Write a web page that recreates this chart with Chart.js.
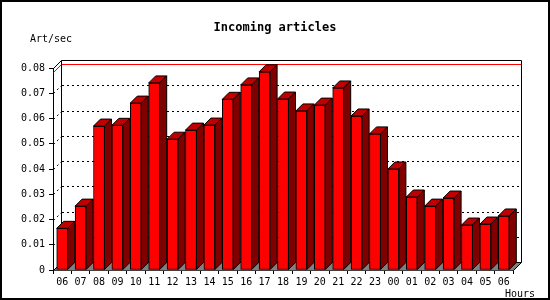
<!DOCTYPE html>
<html>
<head>
<meta charset="utf-8">
<script src="https://cdn.jsdelivr.net/npm/chart.js@4/dist/chart.umd.min.js"></script>
<style>
  html, body { margin: 0; padding: 0; background: #fff; }
  #wrap { width: 550px; height: 300px; }
</style>
</head>
<body>
<div id="wrap"><canvas id="myChart" width="550" height="300"></canvas></div>
<script>
// hours of the day and incoming article rate
const hours = ['06', '07', '08', '09', '10', '11', '12', '13', '14', '15', '16', '17',
  '18', '19', '20', '21', '22', '23', '00', '01', '02', '03', '04', '05', '06'];
const artPerSec = [0.0165, 0.0253, 0.0570, 0.0573, 0.0661, 0.0741, 0.0518, 0.0554, 0.0574,
  0.0676, 0.0733, 0.0785, 0.0677, 0.0630, 0.0653, 0.0721, 0.0610, 0.0539, 0.0400,
  0.0289, 0.0253, 0.0285, 0.0178, 0.0182, 0.0214];
const yTicks = [0, 0.01, 0.02, 0.03, 0.04, 0.05, 0.06, 0.07, 0.08];

const DEPTH = 8;      // frame depth
const BAR_DEPTH = 7;  // bar depth
const MONO = '"DejaVu Sans Mono", "Liberation Mono", monospace';

Chart.defaults.color = '#000';
Chart.defaults.font.family = MONO;
Chart.defaults.font.size = 10;

const frame3d = {
  id: 'frame3d',
  beforeDraw(chart) {
    const ctx = chart.ctx;
    ctx.save();
    ctx.fillStyle = '#fff';
    ctx.fillRect(0, 0, chart.width, chart.height);
    ctx.restore();
  },
  beforeDatasetsDraw(chart) {
    const ctx = chart.ctx;
    const a = chart.chartArea;
    const y = chart.scales.y;
    const L = Math.round(a.left) + 0.5, R = Math.round(a.right) + 0.5;
    const T = Math.round(a.top) + 0.5, B = Math.round(a.bottom) + 0.5;
    const d = DEPTH;
    ctx.save();
    ctx.lineWidth = 1;

    // floor
    ctx.fillStyle = '#808080';
    ctx.beginPath();
    ctx.moveTo(L, B); ctx.lineTo(R, B); ctx.lineTo(R + d, B - d); ctx.lineTo(L + d, B - d);
    ctx.closePath();
    ctx.fill();

    // dotted grid on the back wall
    ctx.strokeStyle = '#000';
    ctx.setLineDash([2, 3]);
    yTicks.forEach(v => {
      if (v === 0 || v === 0.08) return;
      const py = Math.round(y.getPixelForValue(v)) + 0.5;
      ctx.beginPath();
      ctx.moveTo(L + d + 0.5, py - d);
      ctx.lineTo(R + d - 0.5, py - d);
      ctx.stroke();
      ctx.beginPath();
      ctx.moveTo(L, py);
      ctx.lineTo(L + d, py - d);
      ctx.stroke();
    });
    ctx.setLineDash([]);

    // max line
    const maxY = Math.round(y.getPixelForValue(Math.max(...artPerSec))) + 0.5;
    ctx.strokeStyle = '#f00';
    ctx.beginPath();
    ctx.moveTo(L, maxY); ctx.lineTo(L + d, maxY - d); ctx.lineTo(R + d, maxY - d);
    ctx.stroke();

    // back frame
    ctx.strokeStyle = '#000';
    ctx.beginPath();
    ctx.moveTo(L, T); ctx.lineTo(L + d, T - d); ctx.lineTo(R + d, T - d); ctx.lineTo(R + d, B - d);
    ctx.lineTo(L + d, B - d); ctx.lineTo(L + d, T - d);
    ctx.moveTo(L, B); ctx.lineTo(L + d, B - d);
    ctx.moveTo(R, B); ctx.lineTo(R + d, B - d);
    ctx.stroke();
    ctx.restore();
  },
  afterDatasetsDraw(chart) {
    const ctx = chart.ctx;
    const d = BAR_DEPTH;
    ctx.save();
    ctx.lineWidth = 1;
    ctx.strokeStyle = '#000';
    chart.getDatasetMeta(0).data.forEach(bar => {
      const p = bar.getProps(['x', 'y', 'base', 'width'], true);
      const xl = p.x - p.width / 2, xr = p.x + p.width / 2;
      // top face
      ctx.fillStyle = '#c00000';
      ctx.beginPath();
      ctx.moveTo(xl, p.y); ctx.lineTo(xl + d, p.y - d); ctx.lineTo(xr + d, p.y - d); ctx.lineTo(xr, p.y);
      ctx.closePath();
      ctx.fill(); ctx.stroke();
      // side face
      ctx.fillStyle = '#800000';
      ctx.beginPath();
      ctx.moveTo(xr, p.y); ctx.lineTo(xr + d, p.y - d); ctx.lineTo(xr + d, p.base - d); ctx.lineTo(xr, p.base);
      ctx.closePath();
      ctx.fill(); ctx.stroke();
    });
    ctx.restore();
  },
  afterDraw(chart) {
    const ctx = chart.ctx;
    ctx.save();
    ctx.fillStyle = '#000';
    ctx.textBaseline = 'middle';
    ctx.font = 'bold 12px ' + MONO;
    ctx.textAlign = 'center';
    ctx.fillText('Incoming articles', 275, 28);
    ctx.font = '10px ' + MONO;
    ctx.textAlign = 'left';
    ctx.fillText('Art/sec', 30, 39);
    ctx.textAlign = 'right';
    ctx.fillText('Hours', 535, 294);
    // outer border
    ctx.strokeStyle = '#000';
    ctx.lineWidth = 2;
    ctx.strokeRect(1, 1, chart.width - 2, chart.height - 2);
    ctx.restore();
  }
};

const chart = new Chart(document.getElementById('myChart'), {
  type: 'bar',
  plugins: [frame3d],
  data: {
    labels: hours,
    datasets: [{
      label: 'Art/sec',
      data: artPerSec,
      backgroundColor: '#ff0000',
      borderColor: '#000',
      borderWidth: 1,
      borderSkipped: false,
      barThickness: 11,
    }],
  },
  options: {
    animation: false,
    responsive: false,
    layout: { padding: { top: 68, right: 37, left: 0, bottom: 0 } },
    plugins: {
      legend: { display: false },
      tooltip: { enabled: false },
      title: { display: false },
    },
    scales: {
      x: {
        afterFit: (s) => { s.height = 30; },
        grid: { display: true, offset: true, drawOnChartArea: false, tickLength: 4, color: '#000' },
        border: { display: true, color: '#000' },
        ticks: { autoSkip: false, maxRotation: 0, padding: 2 },
      },
      y: {
        min: 0,
        max: 0.08,
        afterFit: (s) => { s.width = 53; },
        afterBuildTicks: (s) => { s.ticks = yTicks.map(v => ({ value: v })); },
        grid: { display: true, drawOnChartArea: false, tickLength: 4, color: '#000' },
        border: { display: true, color: '#000' },
        ticks: {
          padding: 4,
          callback: (v) => v === 0 ? '0' : Number(v).toFixed(2),
        },
      },
    },
  },
});
</script>
</body>
</html>
